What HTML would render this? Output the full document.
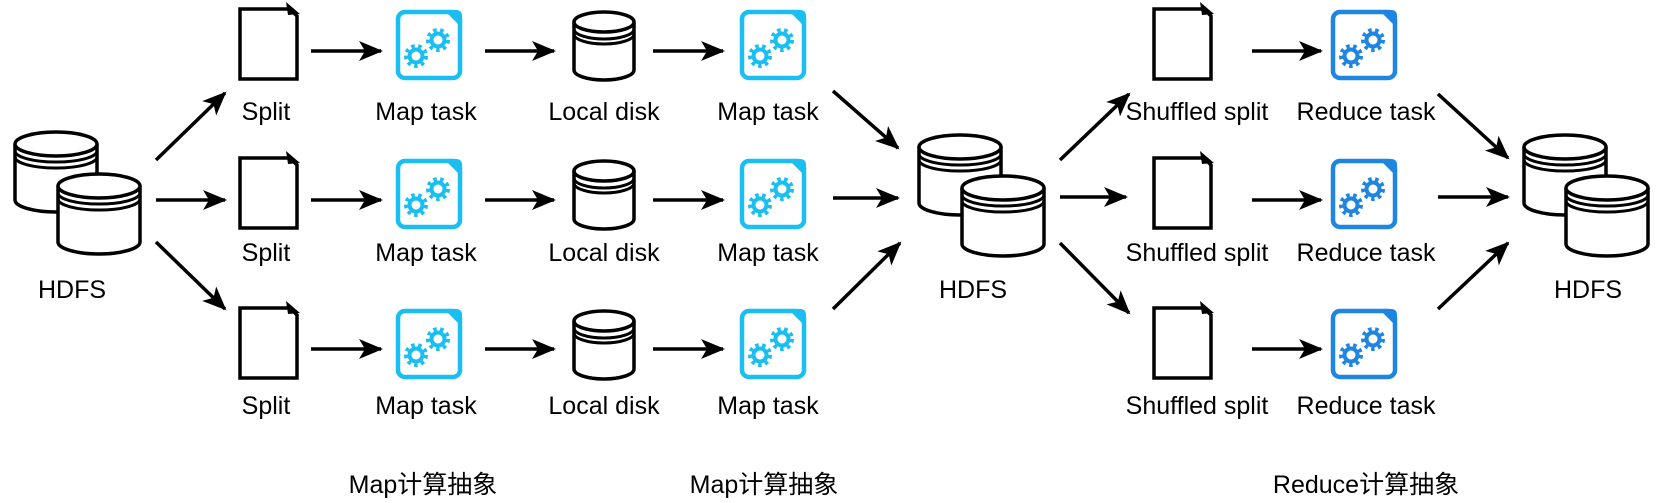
<!DOCTYPE html>
<html><head><meta charset="utf-8"><style>
html,body{margin:0;padding:0;background:#fff;width:1663px;height:503px;overflow:hidden}
svg text{font-family:"Liberation Sans","Noto Sans CJK SC",sans-serif;font-size:25px;fill:#000;text-anchor:middle}
</style></head><body>
<svg width="1663" height="503" viewBox="0 0 1663 503" xmlns="http://www.w3.org/2000/svg">
<defs>
<marker id="a" viewBox="0 0 24 20" refX="22" refY="10" markerWidth="24" markerHeight="20" orient="auto" markerUnits="userSpaceOnUse">
<path d="M0,0 L24,10 L0,20 L6,10 Z" fill="#000"/>
</marker>
<g id="cyl">
<path d="M2,14 V70 A41,12 0 0 0 84,70 V14" fill="#fff" stroke="#000" stroke-width="3.5"/>
<ellipse cx="43" cy="14" rx="41" ry="12" fill="#fff" stroke="#000" stroke-width="3.5"/>
<path d="M2,21 A41,11 0 0 0 84,21 M2,27 A41,11 0 0 0 84,27" fill="none" stroke="#000" stroke-width="3"/>
</g>
<g id="disk">
<path d="M2,12 V60 A30,10 0 0 0 62,60 V12" fill="#fff" stroke="#000" stroke-width="3.5"/>
<ellipse cx="32" cy="12" rx="30" ry="10" fill="#fff" stroke="#000" stroke-width="3.5"/>
<path d="M2,19 A30,10 0 0 0 62,19 M2,24 A30,10 0 0 0 62,24" fill="none" stroke="#000" stroke-width="3"/>
</g>
<g id="doc">
<path d="M0,6 H50 L57,13 V76 H0 Z" fill="#fff" stroke="#000" stroke-width="3.5"/>
<path d="M40,6 H52" stroke="#000" stroke-width="3"/>
<path d="M46,-1 L60,11 L48,12 Z" fill="#000"/>
</g>
<g id="gears">
<circle cx="20" cy="46" r="6.5" fill="none" stroke-width="4"/>
<circle cx="20" cy="46" r="10" fill="none" stroke-width="4" stroke-dasharray="3.5 3.5"/>
<circle cx="42" cy="30" r="6.5" fill="none" stroke-width="4"/>
<circle cx="42" cy="30" r="10" fill="none" stroke-width="4" stroke-dasharray="3.5 3.5"/>
</g>
<g id="mtask">
<rect x="2" y="2" width="62" height="66" rx="7" fill="#fff" stroke="#1bbef0" stroke-width="4.5"/>
<path d="M48,0 H60 Q66,0 66,6 V18 Z" fill="#1bbef0"/>
<use href="#gears" stroke="#1bbef0"/>
</g>
<g id="rtask">
<rect x="2" y="2" width="62" height="66" rx="7" fill="#fff" stroke="#1e86e0" stroke-width="4.5"/>
<path d="M48,0 H60 Q66,0 66,6 V18 Z" fill="#1e86e0"/>
<use href="#gears" stroke="#1e86e0"/>
</g>
</defs>

<g stroke="#000" stroke-width="3.5" fill="none" marker-end="url(#a)">
<line x1="156" y1="160" x2="225" y2="93"/>
<line x1="156" y1="200" x2="225" y2="200"/>
<line x1="156" y1="242" x2="225" y2="309"/>
<line x1="833" y1="91" x2="898" y2="148"/>
<line x1="833" y1="198" x2="898" y2="198"/>
<line x1="833" y1="309" x2="900" y2="243"/>
<line x1="311" y1="51" x2="381" y2="51"/>
<line x1="485" y1="51" x2="554" y2="51"/>
<line x1="653" y1="51" x2="723" y2="51"/>
<line x1="311" y1="200" x2="381" y2="200"/>
<line x1="485" y1="200" x2="554" y2="200"/>
<line x1="653" y1="200" x2="723" y2="200"/>
<line x1="311" y1="349" x2="381" y2="349"/>
<line x1="485" y1="349" x2="554" y2="349"/>
<line x1="653" y1="349" x2="723" y2="349"/>
</g>

<use href="#cyl" x="13" y="130"/><use href="#cyl" x="56" y="172"/>

<use href="#doc" x="240" y="3"/><use href="#doc" x="240" y="152"/><use href="#doc" x="240" y="302"/>
<use href="#mtask" x="396" y="10"/><use href="#mtask" x="396" y="159"/><use href="#mtask" x="396" y="309"/>
<use href="#mtask" x="740" y="10"/><use href="#mtask" x="740" y="159"/><use href="#mtask" x="740" y="309"/>
<use href="#disk" x="572" y="10"/><use href="#disk" x="572" y="159"/><use href="#disk" x="572" y="309"/>

<g transform="translate(-6,0)">
<g stroke="#000" stroke-width="3.5" fill="none" marker-end="url(#a)">
<line x1="1066" y1="160" x2="1135" y2="94"/>
<line x1="1066" y1="197" x2="1132" y2="197"/>
<line x1="1066" y1="243" x2="1135" y2="313"/>
<line x1="1444" y1="94" x2="1514" y2="158"/>
<line x1="1444" y1="197" x2="1514" y2="197"/>
<line x1="1444" y1="309" x2="1514" y2="243"/>
<line x1="1258" y1="51" x2="1327" y2="51"/>
<line x1="1258" y1="200" x2="1327" y2="200"/>
<line x1="1258" y1="349" x2="1327" y2="349"/>
</g>
<use href="#cyl" x="923" y="133"/><use href="#cyl" x="966" y="174"/>
<use href="#cyl" x="1528" y="133"/><use href="#cyl" x="1570" y="174"/>
<use href="#doc" x="1160" y="3"/><use href="#doc" x="1160" y="152"/><use href="#doc" x="1160" y="302"/>
<use href="#rtask" x="1337" y="10"/><use href="#rtask" x="1337" y="159"/><use href="#rtask" x="1337" y="309"/>
<text x="979" y="298">HDFS</text>
<text x="1594" y="298">HDFS</text>
<text x="1203" y="120">Shuffled split</text><text x="1203" y="261">Shuffled split</text><text x="1203" y="414">Shuffled split</text>
<text x="1372" y="120">Reduce task</text><text x="1372" y="261">Reduce task</text><text x="1372" y="414">Reduce task</text>
<text x="1372" y="493">Reduce计算抽象</text>
</g>

<text x="72" y="298">HDFS</text>
<text x="266" y="120">Split</text><text x="266" y="261">Split</text><text x="266" y="414">Split</text>
<text x="426" y="120">Map task</text><text x="426" y="261">Map task</text><text x="426" y="414">Map task</text>
<text x="604" y="120">Local disk</text><text x="604" y="261">Local disk</text><text x="604" y="414">Local disk</text>
<text x="768" y="120">Map task</text><text x="768" y="261">Map task</text><text x="768" y="414">Map task</text>
<text x="423" y="493">Map计算抽象</text>
<text x="764" y="493">Map计算抽象</text>
</svg>
</body></html>
